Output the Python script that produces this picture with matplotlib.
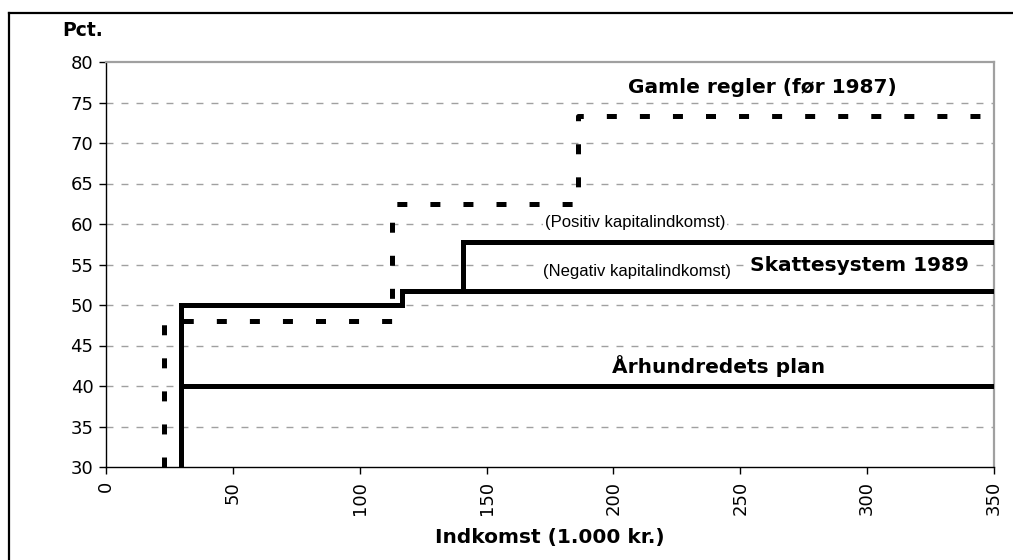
import matplotlib
matplotlib.use("Agg")
import matplotlib.pyplot as plt
from matplotlib.lines import Line2D

plt.rcParams['font.family'] = ['DejaVu Sans']
plt.rcParams['lines.scale_dashes'] = False

# --- data (income in 1.000 kr., marginal tax in pct.) ---
old_x = [23, 23, 112.7, 112.7, 186, 186, 350]
old_y = [30, 48, 48, 62.5, 62.5, 73.3, 73.3]

sys89_x = [29.5, 29.5, 116.5, 116.5, 350]
sys89_y = [30, 50, 50, 51.7, 51.7]

sys89_pos_x = [140.6, 140.6, 350]
sys89_pos_y = [51.7, 57.8, 57.8]

plan_x = [29.5, 350]
plan_y = [40, 40]

x_ticks = [0, 50, 100, 150, 200, 250, 300, 350]
y_ticks = [30, 35, 40, 45, 50, 55, 60, 65, 70, 75, 80]

W, H = 1013, 560
fig = plt.figure(figsize=(W / 100, H / 100), dpi=100)
ax = fig.add_axes([106 / W, 1 - 467 / H, (994 - 106) / W, (467 - 62) / H])

ax.set_xlim(0, 350)
ax.set_ylim(30, 80)
ax.set_xticks(x_ticks)
ax.set_yticks(y_ticks)
ax.set_xticklabels([str(v) for v in x_ticks], rotation=90, fontsize=13)
ax.set_yticklabels([str(v) for v in y_ticks], fontsize=13)
ax.tick_params(axis='both', direction='out', length=5, width=1, color='black')
ax.tick_params(axis='x', pad=5)
ax.tick_params(axis='y', pad=4)

for v in y_ticks[1:-1]:
    ax.axhline(v, color='#a0a0a0', lw=1.0, dashes=(5.0, 5.8), zorder=1)

for s in ['left', 'bottom']:
    ax.spines[s].set_color('black')
    ax.spines[s].set_linewidth(1.0)
for s in ['top', 'right']:
    ax.spines[s].set_color('#a0a0a0')
    ax.spines[s].set_linewidth(1.6)

lw = 3.6
ax.plot(old_x, old_y, color='black', lw=lw, dashes=(7.2, 16.6), solid_capstyle='butt',
        dash_capstyle='butt', zorder=3)
ax.plot(sys89_x, sys89_y, color='black', lw=lw, solid_joinstyle='miter', zorder=4)
ax.plot(sys89_pos_x, sys89_pos_y, color='black', lw=lw, solid_joinstyle='miter', zorder=4)
ax.plot(plan_x, plan_y, color='black', lw=lw, zorder=4)

bbox = dict(facecolor='white', edgecolor='none', pad=1.5)
big = 14.5
ax.text(258.6, 76.8, 'Gamle regler (før 1987)', ha='center', va='center',
        fontsize=big, fontweight='bold', zorder=5)
ax.text(297, 54.9, 'Skattesystem 1989', ha='center', va='center',
        fontsize=big, fontweight='bold', bbox=bbox, zorder=5)
ax.text(241.6, 42.5, 'Århundredets plan', ha='center', va='center',
        fontsize=big, fontweight='bold', zorder=5)
ax.text(208.5, 60.2, '(Positiv kapitalindkomst)', ha='center', va='center',
        fontsize=12, family='Liberation Sans', bbox=bbox, zorder=5)
ax.text(209.3, 54.1, '(Negativ kapitalindkomst)', ha='center', va='center',
        fontsize=12, family='Liberation Sans', bbox=bbox, zorder=5)

fig.text(62 / W, 1 - 30 / H, 'Pct.', ha='left', va='center', fontsize=13.5, fontweight='bold')
fig.text(550 / W, 1 - 538 / H, 'Indkomst (1.000 kr.)', ha='center', va='center',
         fontsize=big, fontweight='bold')

# outer frame (partially visible)
fig.add_artist(Line2D([9 / W, 1.0], [1 - 13 / H, 1 - 13 / H], transform=fig.transFigure,
                      color='black', lw=1.6))
fig.add_artist(Line2D([9 / W, 9 / W], [0, 1 - 13 / H], transform=fig.transFigure,
                      color='black', lw=1.6))

fig.savefig('out.png', dpi=100)
